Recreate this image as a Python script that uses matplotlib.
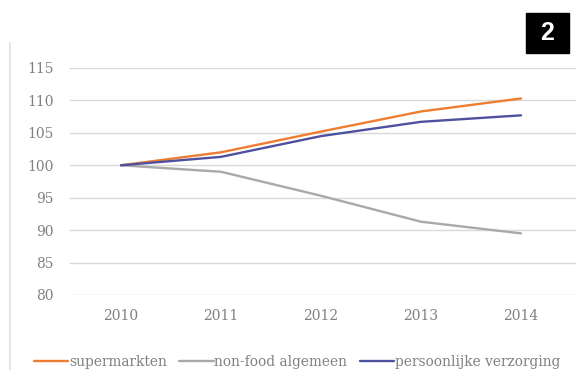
import matplotlib.pyplot as plt
from matplotlib.lines import Line2D
from matplotlib.patches import Rectangle

years = ["2010", "2011", "2012", "2013", "2014"]
supermarkten = [100, 102.0, 105.2, 108.3, 110.3]
non_food = [100, 99.0, 95.3, 91.3, 89.5]
verzorging = [100, 101.3, 104.5, 106.7, 107.7]
yticks = [80, 85, 90, 95, 100, 105, 110, 115]

W, H = 576, 370
fig = plt.figure(figsize=(W / 100, H / 100), dpi=100)
fig.patch.set_facecolor("white")

# plot area: x 70..(cut off right), y 68..295 px
ax = fig.add_axes([70 / W, (H - 295) / H, (W - 70 + 20) / W, 227 / H])
x = range(len(years))
ax.plot(x, supermarkten, color="#ed7d31", lw=1.7, label="supermarkten", solid_capstyle="round")
ax.plot(x, non_food, color="#a9a9a9", lw=1.7, label="non-food algemeen", solid_capstyle="round")
ax.plot(x, verzorging, color="#4e529e", lw=1.7, label="persoonlijke verzorging", solid_capstyle="round")

ax.set_ylim(80, 115)
ax.set_xlim(-0.51, 4.75)
ax.set_yticks(yticks)
ax.set_xticks(list(x))
ax.set_xticklabels(years)
ax.grid(axis="y", color="#d9d9d9", lw=1)
ax.set_axisbelow(True)
for s in ax.spines.values():
    s.set_visible(False)
ax.tick_params(length=0, labelsize=10, labelcolor="#808080")
ax.tick_params(axis="y", pad=12)
ax.tick_params(axis="x", pad=10)
for lab in ax.get_xticklabels() + ax.get_yticklabels():
    lab.set_family("DejaVu Serif")

fig.legend(loc="center left", bbox_to_anchor=(34 / W, 1 - 362 / H), ncol=3, frameon=False,
           prop={"family": "DejaVu Serif", "size": 9.9}, labelcolor="#808080",
           handlelength=2.5, handletextpad=0.05, columnspacing=0.9, borderaxespad=0,
           borderpad=0)

# faint left border of the chart
fig.add_artist(Line2D([10 / W, 10 / W], [0, 1 - 43 / H], color="#e6e6e6", lw=1.5))

# black number box
fig.add_artist(Rectangle((526 / W, 1 - 53 / H), 43 / W, 40 / H, color="black"))
fig.text(547.5 / W, 1 - 33 / H, "2", color="white", fontsize=18, fontweight="bold",
         ha="center", va="center", family="Liberation Sans")

fig.savefig("out.png", dpi=100)
